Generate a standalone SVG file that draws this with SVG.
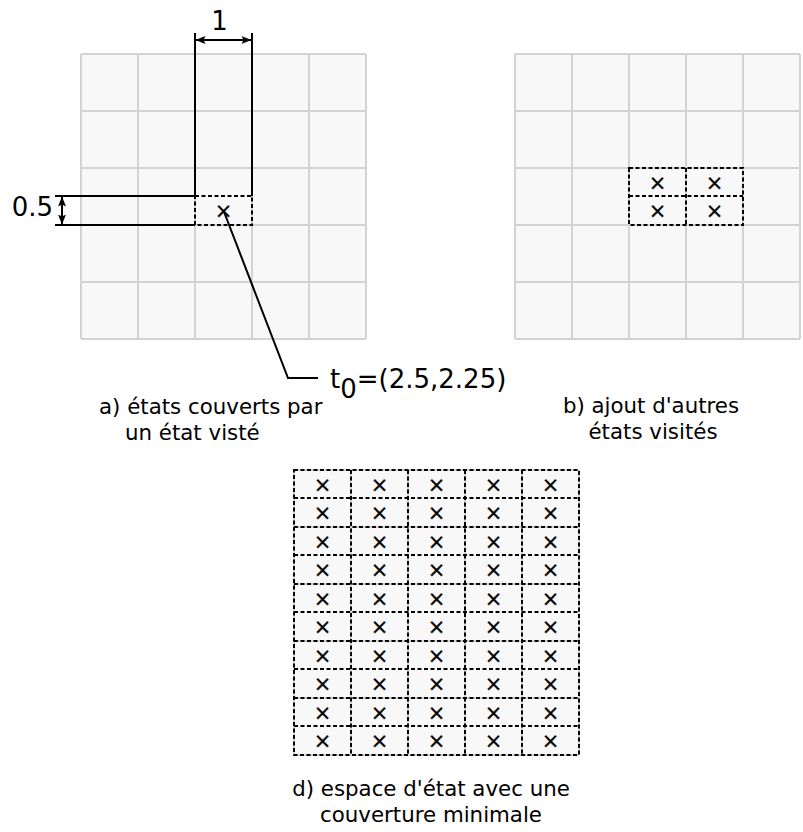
<svg xmlns="http://www.w3.org/2000/svg" width="803" height="832" viewBox="0 0 803 832">
<style>
text{font-family:"DejaVu Sans","Liberation Sans",sans-serif;fill:#000}
.cap{font-size:21.33px}
.big{font-size:26px}
.mark{font-size:21px;text-anchor:middle;stroke:#000;stroke-width:0.3}
.dash{fill:none;stroke:#000;stroke-width:2;stroke-dasharray:4 2.5}
.solid{fill:none;stroke:#000;stroke-width:2}
.dim{fill:none;stroke:#000;stroke-width:2;marker-start:url(#ah);marker-end:url(#ah)}
</style>
<defs>
<marker id="ah" viewBox="0 0 10 8" refX="9.5" refY="4" markerWidth="10" markerHeight="8" markerUnits="userSpaceOnUse" orient="auto-start-reverse">
<path d="M0,0 L10,4 L0,8 L2,4 z" fill="#000"/>
</marker>
<g id="grid5">
<rect x="0" y="0" width="285" height="285" fill="#f8f8f8"/>
<path d="M0,0V285M57,0V285M114,0V285M171,0V285M228,0V285M285,0V285M0,0H285M0,57H285M0,114H285M0,171H285M0,228H285M0,285H285" fill="none" stroke="#d3d3d3" stroke-width="2"/>
</g>
</defs>

<g id="panel-a">
<use href="#grid5" x="81" y="54"/>
<rect class="dash" x="195" y="196" width="57" height="29"/>
<text class="mark" x="223.5" y="218">×</text>
</g>

<g id="panel-b">
<use href="#grid5" x="515" y="54"/>
<path class="dash" d="M629,168H743V225H629Z"/>
<path class="dash" d="M686,168V225M629,196H743"/>
<text class="mark" x="657.5" y="189.5">×</text>
<text class="mark" x="714.5" y="189.5">×</text>
<text class="mark" x="657.5" y="218">×</text>
<text class="mark" x="714.5" y="218">×</text>
</g>

<g id="panel-d">
<use href="#grid5" x="294" y="470"/>
<path class="dash" d="M294,470H579V755H294Z"/>
<path class="dash" d="M351,470V755M408,470V755M465,470V755M522,470V755"/>
<path class="dash" d="M294,498H579M294,527H579M294,555H579M294,584H579M294,612H579M294,641H579M294,669H579M294,698H579M294,726H579"/>
<g id="d-marks">
<text class="mark" x="322.5" y="491.5">×</text><text class="mark" x="379.5" y="491.5">×</text><text class="mark" x="436.5" y="491.5">×</text><text class="mark" x="493.5" y="491.5">×</text><text class="mark" x="550.5" y="491.5">×</text>
<text class="mark" x="322.5" y="520">×</text><text class="mark" x="379.5" y="520">×</text><text class="mark" x="436.5" y="520">×</text><text class="mark" x="493.5" y="520">×</text><text class="mark" x="550.5" y="520">×</text>
<text class="mark" x="322.5" y="548.5">×</text><text class="mark" x="379.5" y="548.5">×</text><text class="mark" x="436.5" y="548.5">×</text><text class="mark" x="493.5" y="548.5">×</text><text class="mark" x="550.5" y="548.5">×</text>
<text class="mark" x="322.5" y="577">×</text><text class="mark" x="379.5" y="577">×</text><text class="mark" x="436.5" y="577">×</text><text class="mark" x="493.5" y="577">×</text><text class="mark" x="550.5" y="577">×</text>
<text class="mark" x="322.5" y="605.5">×</text><text class="mark" x="379.5" y="605.5">×</text><text class="mark" x="436.5" y="605.5">×</text><text class="mark" x="493.5" y="605.5">×</text><text class="mark" x="550.5" y="605.5">×</text>
<text class="mark" x="322.5" y="634">×</text><text class="mark" x="379.5" y="634">×</text><text class="mark" x="436.5" y="634">×</text><text class="mark" x="493.5" y="634">×</text><text class="mark" x="550.5" y="634">×</text>
<text class="mark" x="322.5" y="662.5">×</text><text class="mark" x="379.5" y="662.5">×</text><text class="mark" x="436.5" y="662.5">×</text><text class="mark" x="493.5" y="662.5">×</text><text class="mark" x="550.5" y="662.5">×</text>
<text class="mark" x="322.5" y="691">×</text><text class="mark" x="379.5" y="691">×</text><text class="mark" x="436.5" y="691">×</text><text class="mark" x="493.5" y="691">×</text><text class="mark" x="550.5" y="691">×</text>
<text class="mark" x="322.5" y="719.5">×</text><text class="mark" x="379.5" y="719.5">×</text><text class="mark" x="436.5" y="719.5">×</text><text class="mark" x="493.5" y="719.5">×</text><text class="mark" x="550.5" y="719.5">×</text>
<text class="mark" x="322.5" y="748">×</text><text class="mark" x="379.5" y="748">×</text><text class="mark" x="436.5" y="748">×</text><text class="mark" x="493.5" y="748">×</text><text class="mark" x="550.5" y="748">×</text>
</g>
</g>

<g id="connectors">
<path class="solid" d="M195,33V196M252,33V196"/>
<path class="dim" d="M196,40H251"/>
<path class="solid" d="M55,196H195M55,225H195"/>
<path class="dim" d="M62,197V224"/>
<path class="solid" d="M223.5,210.5L288,378H318"/>
</g>

<g id="labels">
<text class="big" x="219.5" y="30" text-anchor="middle">1</text>
<text class="big" x="53" y="216" text-anchor="end">0.5</text>
<text class="big" x="330" y="388">t<tspan dy="10">0</tspan><tspan dy="-10">=(2.5,2.25)</tspan></text>
<text class="cap" x="99" y="414">a) états couverts par</text>
<text class="cap" x="125" y="440">un état visté</text>
<text class="cap" x="651" y="413" text-anchor="middle">b) ajout d'autres</text>
<text class="cap" x="653" y="439" text-anchor="middle">états visités</text>
<text class="cap" x="431" y="796" text-anchor="middle">d) espace d'état avec une</text>
<text class="cap" x="431" y="822" text-anchor="middle">couverture minimale</text>
</g>
</svg>
